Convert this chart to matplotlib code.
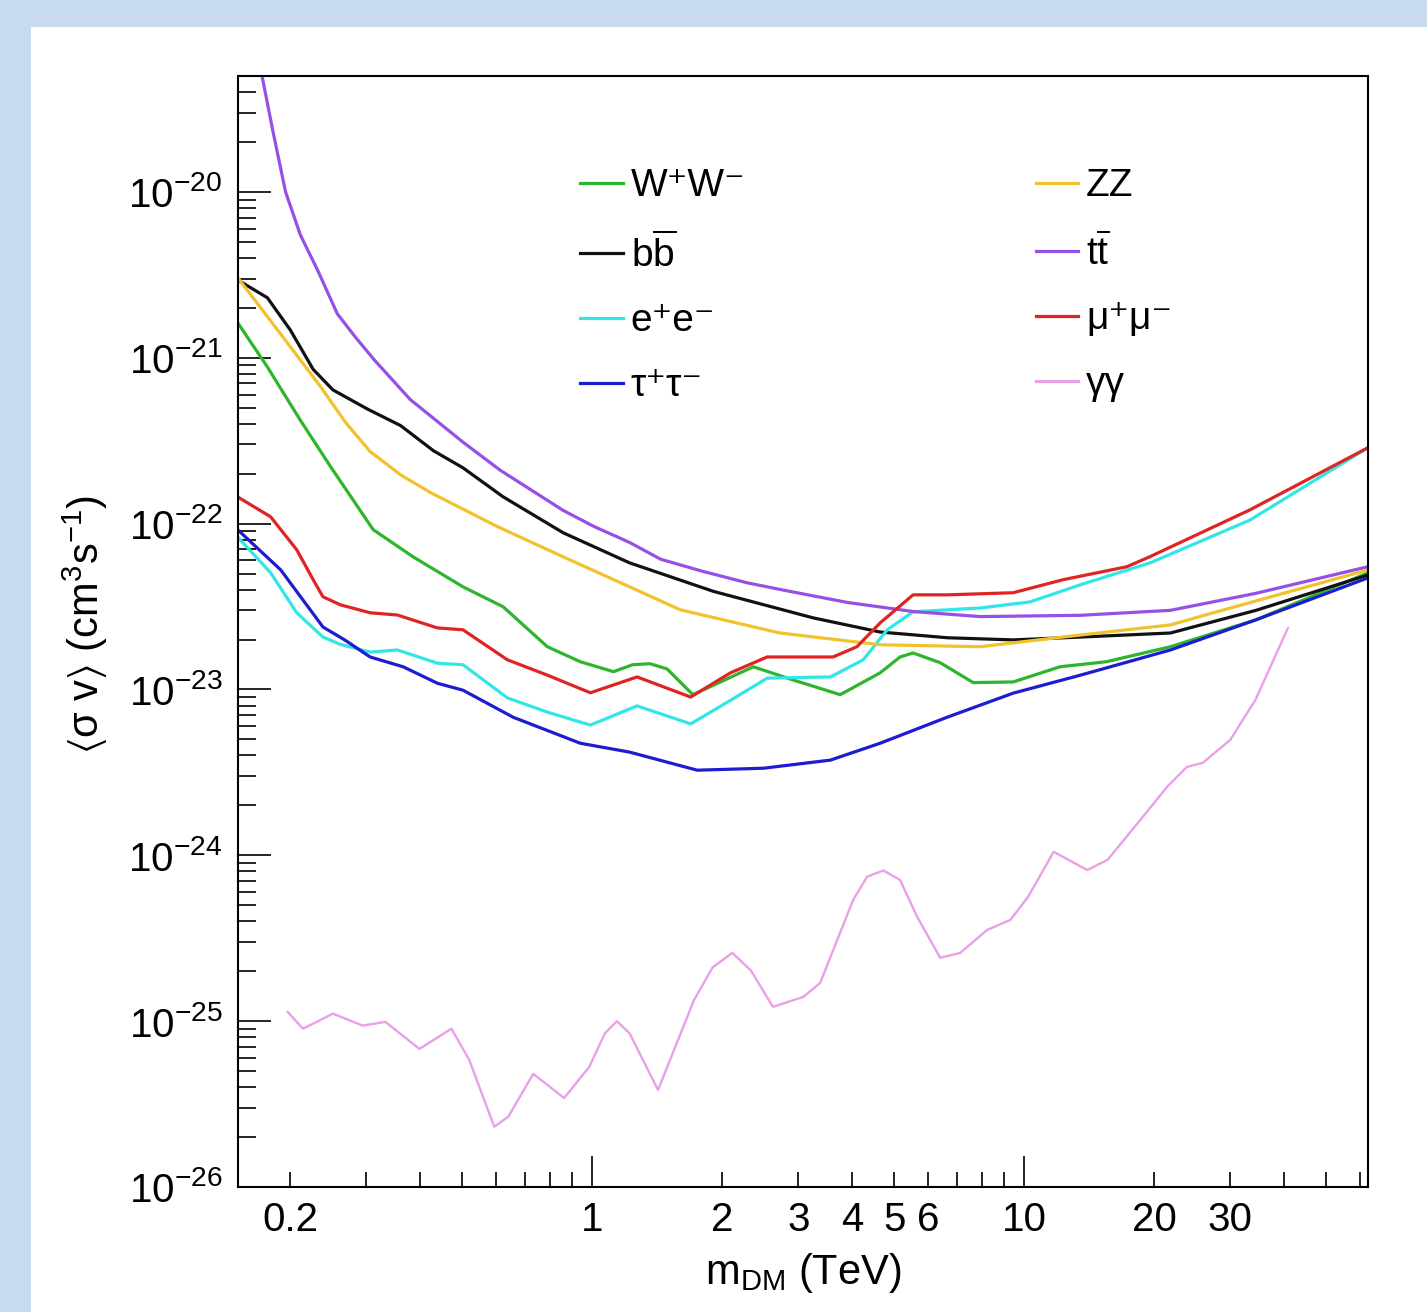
import numpy as np
import matplotlib
matplotlib.use('Agg')
import matplotlib.pyplot as plt
from matplotlib.patches import Rectangle
from matplotlib.lines import Line2D
from matplotlib.ticker import FixedLocator, FixedFormatter, NullFormatter

plt.rcParams['font.family'] = ['Liberation Sans', 'DejaVu Sans']
plt.rcParams['mathtext.fontset'] = 'custom'
plt.rcParams['mathtext.rm'] = 'Liberation Sans'
plt.rcParams['mathtext.it'] = 'Liberation Sans:italic'
plt.rcParams['mathtext.bf'] = 'Liberation Sans:bold'
plt.rcParams['mathtext.fallback'] = 'stixsans'

# upper limits on <sigma v> (cm^3 s^-1) vs m_DM (TeV)
x_ww = [0.151, 0.177, 0.211, 0.248, 0.311, 0.385, 0.502, 0.622, 0.787, 0.938, 1.12, 1.24, 1.36,
        1.49, 1.71, 2.36, 2.92, 3.75, 4.64, 5.16, 5.53, 6.39, 7.62, 9.43, 12.1, 15.5, 21.8, 34.4, 62.5]
y_ww = [1.63e-21, 8.8e-22, 4.2e-22, 2.2e-22, 9.2e-23, 6.3e-23, 4.16e-23, 3.15e-23, 1.81e-23,
        1.47e-23, 1.28e-23, 1.41e-23, 1.43e-23, 1.33e-23, 9.3e-24, 1.37e-23, 1.14e-23, 9.3e-24,
        1.26e-23, 1.57e-23, 1.66e-23, 1.45e-23, 1.10e-23, 1.11e-23, 1.37e-23, 1.47e-23, 1.81e-23,
        2.63e-23, 5.05e-23]

x_zz = [0.151, 0.177, 0.234, 0.268, 0.306, 0.360, 0.422, 0.603, 0.857, 1.22, 1.60, 2.72, 4.64,
        7.91, 13.5, 21.8, 27.4, 62.5]
y_zz = [3.05e-21, 1.77e-21, 6.8e-22, 4.1e-22, 2.72e-22, 1.97e-22, 1.54e-22, 9.6e-23, 6.3e-23,
        4.16e-23, 3.02e-23, 2.19e-23, 1.86e-23, 1.81e-23, 2.13e-23, 2.45e-23, 2.9e-23, 5.26e-23]

x_bb = [0.151, 0.177, 0.200, 0.226, 0.251, 0.302, 0.360, 0.429, 0.502, 0.622, 0.857, 1.22, 1.91,
        3.25, 4.64, 6.64, 9.43, 13.5, 21.8, 34.4, 62.5]
y_bb = [2.95e-21, 2.3e-21, 1.47e-21, 8.5e-22, 6.4e-22, 4.9e-22, 3.9e-22, 2.75e-22, 2.17e-22,
        1.45e-22, 8.8e-23, 5.8e-23, 3.9e-23, 2.7e-23, 2.22e-23, 2.05e-23, 1.99e-23, 2.07e-23,
        2.19e-23, 3.0e-23, 4.9e-23]

x_tt = [0.167, 0.172, 0.182, 0.195, 0.211, 0.231, 0.257, 0.283, 0.313, 0.379, 0.502, 0.612, 0.857,
        1.01, 1.22, 1.44, 1.78, 2.28, 2.80, 3.89, 5.53, 7.91, 13.5, 21.8, 34.4, 62.5]
y_tt = [8.3e-20, 5.0e-20, 2.37e-20, 1.0e-20, 5.5e-21, 3.4e-21, 1.84e-21, 1.33e-21, 9.7e-22, 5.6e-22,
        3.1e-22, 2.1e-22, 1.2e-22, 9.6e-23, 7.7e-23, 6.1e-23, 5.2e-23, 4.4e-23, 3.95e-23, 3.35e-23,
        2.95e-23, 2.75e-23, 2.8e-23, 3.0e-23, 3.8e-23, 5.5e-23]

x_ee = [0.151, 0.180, 0.207, 0.238, 0.261, 0.306, 0.354, 0.438, 0.502, 0.636, 0.787, 0.990, 1.27,
        1.69, 2.09, 2.54, 3.56, 4.24, 4.82, 5.53, 7.91, 10.3, 13.5, 19.6, 33.3, 62.5]
y_ee = [8.3e-23, 5.06e-23, 2.90e-23, 2.07e-23, 1.87e-23, 1.68e-23, 1.73e-23, 1.44e-23, 1.41e-23,
        8.9e-24, 7.3e-24, 6.1e-24, 7.96e-24, 6.2e-24, 8.6e-24, 1.17e-23, 1.19e-23, 1.51e-23,
        2.29e-23, 2.94e-23, 3.10e-23, 3.37e-23, 4.28e-23, 5.81e-23, 1.05e-22, 2.87e-22]

x_mm = [0.151, 0.180, 0.207, 0.226, 0.238, 0.261, 0.306, 0.354, 0.438, 0.502, 0.636, 0.787, 0.990,
        1.27, 1.69, 2.09, 2.54, 3.61, 4.10, 4.64, 5.53, 6.64, 9.43, 12.3, 17.3, 19.6, 33.3, 62.5]
y_mm = [1.45e-22, 1.10e-22, 6.95e-23, 4.58e-23, 3.62e-23, 3.24e-23, 2.90e-23, 2.81e-23, 2.35e-23,
        2.29e-23, 1.51e-23, 1.22e-23, 9.55e-24, 1.19e-23, 9.0e-24, 1.26e-23, 1.57e-23, 1.57e-23,
        1.81e-23, 2.52e-23, 3.72e-23, 3.72e-23, 3.83e-23, 4.59e-23, 5.5e-23, 6.34e-23, 1.21e-22,
        2.87e-22]

x_tau = [0.151, 0.190, 0.238, 0.268, 0.306, 0.365, 0.438, 0.502, 0.656, 0.938, 1.22, 1.75, 2.49,
         3.56, 4.64, 6.64, 9.43, 13.5, 21.8, 34.4, 62.5]
y_tau = [9.2e-23, 5.26e-23, 2.38e-23, 1.98e-23, 1.57e-23, 1.37e-23, 1.09e-23, 9.9e-24, 6.8e-24,
         4.74e-24, 4.19e-24, 3.26e-24, 3.35e-24, 3.75e-24, 4.74e-24, 6.81e-24, 9.5e-24, 1.22e-23,
         1.73e-23, 2.63e-23, 4.71e-23]

x_gg = [0.197, 0.214, 0.251, 0.294, 0.332, 0.398, 0.472, 0.519, 0.593, 0.639, 0.730, 0.861, 0.984,
        1.07, 1.14, 1.22, 1.42, 1.72, 1.90, 2.11, 2.33, 2.62, 3.08, 3.37, 4.02, 4.33, 4.72, 5.16,
        5.65, 6.39, 7.11, 8.21, 9.29, 10.2, 11.7, 14.0, 15.6, 18.8, 21.4, 23.8, 25.9, 30.0, 34.3, 40.8]
y_gg = [1.14e-25, 9.0e-26, 1.11e-25, 9.4e-26, 9.9e-26, 6.8e-26, 9.0e-26, 5.85e-26, 2.31e-26,
        2.65e-26, 4.81e-26, 3.44e-26, 5.3e-26, 8.45e-26, 1.0e-25, 8.45e-26, 3.85e-26, 1.34e-25,
        2.11e-25, 2.58e-25, 2.02e-25, 1.22e-25, 1.40e-25, 1.70e-25, 5.4e-25, 7.43e-25, 8.1e-25,
        7.1e-25, 4.26e-25, 2.41e-25, 2.58e-25, 3.55e-25, 4.08e-25, 5.6e-25, 1.05e-24, 8.15e-25,
        9.4e-25, 1.7e-24, 2.58e-24, 3.41e-24, 3.61e-24, 4.97e-24, 8.65e-24, 2.35e-23]

labels = ['W\u207aW\u207b', 'b$\\overline{\\mathrm{b}}$', 'e\u207ae\u207b', '\u03c4\u207a\u03c4\u207b',
          'ZZ', 't$\\overline{\\mathrm{t}}$', '\u03bc\u207a\u03bc\u207b', '\u03b3\u03b3']
colors = ['#2db52d', '#111111', '#33e6e6', '#1c1cd0', '#f2c12e', '#9650e6', '#e02424', '#e9a0e6']

fig = plt.figure(figsize=(14.27, 13.12), dpi=100, facecolor='#c8daf0')
fig.patches.append(Rectangle((31 / 1427, 0), 1, 1285 / 1312, transform=fig.transFigure,
                             facecolor='white', edgecolor='none', zorder=-5))
ax = fig.add_axes([237.6 / 1427, 125 / 1312, 1130.4 / 1427, 1111 / 1312])

lw = 2.3
series = [(x_ww, y_ww), (x_bb, y_bb), (x_ee, y_ee), (x_tau, y_tau),
          (x_zz, y_zz), (x_tt, y_tt), (x_mm, y_mm), (x_gg, y_gg)]
for (xs, ys), c in zip(series, colors):
    ax.plot(xs, ys, color=c, lw=(1.7 if c == colors[7] else lw),
            solid_joinstyle='round', solid_capstyle='round')

ax.set_xscale('log')
ax.set_yscale('log')
ax.set_xlim(0.151, 62.5)
ax.set_ylim(1e-26, 5e-20)

ax.xaxis.set_major_locator(FixedLocator([1, 10]))
ax.xaxis.set_major_formatter(FixedFormatter(['1', '10']))
minor_x = [0.2, 0.3, 0.4, 0.5, 0.6, 0.7, 0.8, 0.9, 2, 3, 4, 5, 6, 7, 8, 9, 20, 30, 40, 50, 60]
minor_lab = ['0.2', '', '', '', '', '', '', '', '2', '3', '4', '5', '6', '', '', '',
             '20', '30', '', '', '']
ax.xaxis.set_minor_locator(FixedLocator(minor_x))
ax.xaxis.set_minor_formatter(FixedFormatter(minor_lab))

decades = list(range(-26, -19))
ax.yaxis.set_major_locator(FixedLocator([10.0 ** d for d in decades]))
ax.yaxis.set_major_formatter(FixedFormatter([r'$10^{%d}$' % d for d in decades]))
minor_y = [k * 10.0 ** d for d in decades for k in range(2, 10) if k * 10.0 ** d <= 5e-20]
ax.yaxis.set_minor_locator(FixedLocator(minor_y))
ax.yaxis.set_minor_formatter(NullFormatter())

ax.tick_params(axis='both', which='both', direction='in', top=False, right=False,
               labelsize=29, width=1.2, color='black')
ax.tick_params(axis='x', which='major', length=22, pad=10)
ax.tick_params(axis='x', which='minor', length=11, pad=10)
ax.tick_params(axis='y', which='major', length=24, pad=11)
ax.tick_params(axis='y', which='minor', length=13)
for s in ax.spines.values():
    s.set_linewidth(1.5)

ax.set_xlabel('m$_{\\mathrm{DM}}$ (TeV)', fontsize=30)
ax.xaxis.set_label_coords(0.5, -0.058)
ax.set_ylabel('$\\langle\\mathrm{\\sigma\\ v}\\rangle$ (cm$^{3}$s$^{-1}$)', fontsize=30)
ax.yaxis.set_label_coords(-0.113, 0.506)

h = [Line2D([], [], color=c, lw=lw) for c in colors]
leg_kw = dict(loc='upper left', frameon=False, fontsize=28, handlelength=1.1,
              handletextpad=0.2, labelspacing=0.74, borderpad=0, borderaxespad=0)
leg1 = ax.legend(h[:4], labels[:4], bbox_to_anchor=(0.303, 0.917), **leg_kw)
ax.add_artist(leg1)
ax.legend(h[4:], labels[4:], bbox_to_anchor=(0.706, 0.917), **leg_kw)

fig.savefig('out.png', dpi=100, facecolor=fig.get_facecolor())
